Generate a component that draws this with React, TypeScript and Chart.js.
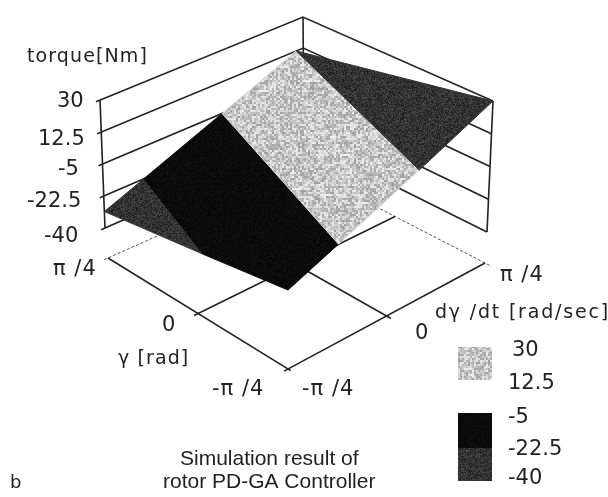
import React, { useEffect, useRef } from "react";
import { Chart, registerables } from "chart.js";
Chart.register(...registerables);

// ---- values (gamma and rate in units of pi/4, torque in Nm) ----
const torqueTicks = [30, 12.5, -5, -22.5, -40];
const gammaTicks = [-1, 0, 1];
const rateTicks = [-1, 0, 1];

const bandLow: number[][] = [[1, -1, -31], [1, -0.6, -22.5], [-0.08, -1, -22.5]];
const bandMid: number[][] = [[1, -0.6, -22.5], [1, 0.19, -5], [-1, -0.5, -5], [-1, -1, -15.3], [-0.08, -1, -22.5]];
const bandLight: number[][] = [[1, 0.19, -5], [1, 0.93, 12.5], [-1, 0.29, 12.5], [-1, -0.5, -5]];
const bandHigh: number[][] = [[1, 0.93, 12.5], [-1, 1, 30], [-1, 0.29, 12.5]];

// ---- view of the box: screen position of its eight corners and of the floor ----
type Q = { front: number[]; left: number[]; back: number[]; right: number[] };
const floorPlane: Q = { front: [288, 369], left: [108, 258], back: [305, 170], right: [485, 263] };
const lowPlane: Q = { front: [288, 338], left: [105, 228], back: [304, 141], right: [487, 232] };
const highPlane: Q = { front: [288, 202], left: [100, 100], back: [303, 17], right: [493, 101] };

function bil(q: Q, gamma: number, rate: number) {
  const u = (rate + 1) / 2, v = (gamma + 1) / 2;
  return [0, 1].map(
    (i) =>
      q.front[i] * (1 - u) * (1 - v) + q.right[i] * u * (1 - v) + q.left[i] * (1 - u) * v + q.back[i] * u * v
  );
}
function project(gamma: number, rate: number, tau: number) {
  const t = (tau + 40) / 70;
  const a = bil(lowPlane, gamma, rate), b = bil(highPlane, gamma, rate);
  return { x: a[0] + (b[0] - a[0]) * t, y: a[1] + (b[1] - a[1]) * t };
}
function ground(gamma: number, rate: number) {
  const p = bil(floorPlane, gamma, rate);
  return { x: p[0], y: p[1] };
}

function noisePattern(lo: number, hi: number, speck: number, cell: number) {
  const c = document.createElement("canvas");
  const n = 97;
  c.width = c.height = n * cell;
  const g = c.getContext("2d")!;
  let s = 12345;
  for (let y = 0; y < n; y++)
    for (let x = 0; x < n; x++) {
      s = (s * 1103515245 + 12345) & 0x7fffffff;
      const r = ((s >> 8) & 255) / 255;
      s = (s * 1103515245 + 12345) & 0x7fffffff;
      const k = ((s >> 8) & 255) / 255;
      const v = Math.round(k < speck ? lo : lo + (hi - lo) * r);
      g.fillStyle = `rgb(${v},${v},${v})`;
      g.fillRect(x * cell, y * cell, cell, cell);
    }
  return g.createPattern(c, "repeat")!;
}

const INK = "#222222";
const texts: [string, number, number, string][] = [
  ["torque[Nm]", 27, 57, "ax"],
  ["30", 57, 102, "tk"],
  ["12.5", 38, 140, "tk"],
  ["-5", 58, 170, "tk"],
  ["-22.5", 27, 202, "tk"],
  ["-40", 44, 237, "tk"],
  ["π /4", 53, 270, "pi"],
  ["0", 162, 326, "tk"],
  ["γ [rad]", 118, 359, "ax"],
  ["-π /4", 212, 390, "pi"],
  ["-π /4", 302, 390, "pi"],
  ["0", 415, 334, "tk"],
  ["π /4", 500, 276, "pi"],
  ["dγ /dt [rad/sec]", 435, 313, "ax2"],
  ["30", 512, 351, "tk"],
  ["12.5", 508, 384, "tk"],
  ["-5", 508, 418, "tk"],
  ["-22.5", 508, 450, "tk"],
  ["-40", 508, 479, "tk"],
  ["Simulation result of", 180, 459, "cap"],
  ["rotor PD-GA Controller", 163, 482, "cap"],
  ["b", 10, 483, "b"],
];

export default function App() {
  const ref = useRef<HTMLCanvasElement>(null);
  useEffect(() => {
    document.body.style.margin = "0";
    const light = noisePattern(160, 238, 0.03, 1.5 > 1 ? 2 : 1);
    const dark = noisePattern(30, 72, 0.03, 1);
    const black = noisePattern(4, 18, 0, 1);

    const line = (pts: { x: number; y: number }[], extra: any = {}) => ({
      data: pts,
      showLine: true,
      pointRadius: 0,
      borderColor: INK,
      borderWidth: 1.6,
      tension: 0,
      fill: false,
      ...extra,
    });
    const poly = (band: number[][], fillStyle: any, edge: string) =>
      line(band.map(([g, r, t]) => project(g, r, t)).concat([project(band[0][0], band[0][1], band[0][2])]), {
        backgroundColor: fillStyle,
        borderColor: edge,
        borderWidth: 1,
        fill: "shape",
      });

    const datasets: any[] = [];
    // back walls
    torqueTicks.forEach((t) =>
      datasets.push(line([project(1, -1.04, t), project(1, 1, t), project(-1, 1, t)]))
    );
    datasets.push(line([project(1, -1, -40), project(1, -1, 30)]));
    datasets.push(line([project(1, 1, -40), project(1, 1, 30)]));
    datasets.push(line([project(-1, 1, -40), project(-1, 1, 30)]));
    // floor
    const dash = { borderDash: [3, 2], borderWidth: 1, borderColor: "#555" };
    datasets.push(line([ground(1, -1.04), ground(1, 1)], dash));
    datasets.push(line([ground(-1.05, 1), ground(1, 1)], dash));
    datasets.push(line([ground(-1.03, -1), ground(1, -1)]));
    datasets.push(line([ground(-1, -1.04), ground(-1, 1)]));
    gammaTicks.slice(1, 2).forEach((g) => datasets.push(line([ground(g, -1.04), ground(g, 1)])));
    rateTicks.slice(1, 2).forEach((r) => datasets.push(line([ground(-1.05, r), ground(1, r)])));
    // surface
    datasets.push(poly(bandLow, dark, "#3a3a3a"));
    datasets.push(poly(bandMid, black, "#0a0a0a"));
    datasets.push(poly(bandLight, light, "#d8d8d8"));
    datasets.push(poly(bandHigh, dark, "#333333"));
    datasets.forEach((d, i) => (d.order = datasets.length - i));

    const annotate = {
      id: "annotate",
      afterDraw(c: any) {
        const g: CanvasRenderingContext2D = c.ctx;
        g.save();
        g.fillStyle = light;
        g.fillRect(458, 347, 34, 33);
        g.fillStyle = black;
        g.fillRect(458, 413, 34, 35);
        g.fillStyle = dark;
        g.fillRect(458, 448, 34, 33);
        g.fillStyle = INK;
        g.textBaseline = "middle";
        g.textAlign = "left";
        const fonts: Record<string, string> = {
          ax: '19px "DejaVu Sans"',
          ax2: '19px "DejaVu Sans"',
          tk: '21px "DejaVu Sans"',
          pi: '21px "DejaVu Sans"',
          cap: '21px "Liberation Sans"',
          b: '18px "DejaVu Sans"',
        };
        const spacing: Record<string, string> = { ax: "1.1px", ax2: "1.8px", pi: "1px" };
        for (const [s, x, y, k] of texts) {
          g.font = fonts[k];
          (g as any).letterSpacing = spacing[k] || "0px";
          g.fillText(s, x, y);
        }
        g.restore();
      },
    };

    const chart = new Chart(ref.current!, {
      type: "scatter",
      data: { datasets },
      options: {
        animation: false,
        responsive: false,
        layout: { padding: 0 },
        plugins: { legend: { display: false }, tooltip: { enabled: false } },
        scales: {
          x: { type: "linear", min: 0, max: 608, display: false },
          y: { type: "linear", min: 0, max: 497, reverse: true, display: false },
        },
      },
      plugins: [annotate],
    } as any);
    return () => chart.destroy();
  }, []);
  return (
    <div style={{ position: "fixed", left: 0, top: 0, width: 608, height: 497, background: "#fff" }}>
      <canvas ref={ref} width={608} height={497} style={{ display: "block", filter: "blur(0.4px)" }} />
    </div>
  );
}
